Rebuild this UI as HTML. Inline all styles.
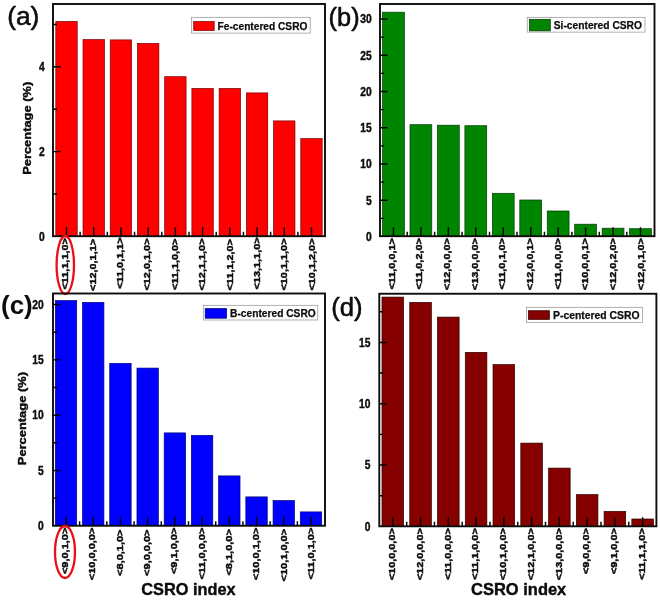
<!DOCTYPE html>
<html lang="en">
<head>
<meta charset="utf-8">
<title>CSRO index distributions</title>
<style>
html,body{margin:0;padding:0;background:#fff;}
body{width:660px;height:600px;overflow:hidden;}
svg{display:block;}
text{font-family:"Liberation Sans", sans-serif;fill:#0a0a0a;stroke:#0a0a0a;stroke-width:0.3px;stroke-linejoin:round;}
.b{font-weight:700;}
.r{font-weight:400;stroke-width:0.55px;}
.tb{font-weight:700;stroke:none;}
</style>
</head>
<body>
<svg width="660" height="600" viewBox="0 0 660 600">
<defs><filter id="soft" x="0" y="0" width="660" height="600" filterUnits="userSpaceOnUse"><feGaussianBlur stdDeviation="0.75"/></filter></defs>
<g filter="url(#soft)">
<rect x="-5" y="-5" width="670" height="610" fill="#fff"/>
<rect x="55.80" y="21.50" width="21.40" height="214.70" fill="#ff0000" stroke="#7a0000" stroke-width="0.7"/>
<rect x="83.02" y="39.60" width="21.40" height="196.60" fill="#ff0000" stroke="#7a0000" stroke-width="0.7"/>
<rect x="110.24" y="39.90" width="21.40" height="196.30" fill="#ff0000" stroke="#7a0000" stroke-width="0.7"/>
<rect x="137.46" y="43.40" width="21.40" height="192.80" fill="#ff0000" stroke="#7a0000" stroke-width="0.7"/>
<rect x="164.68" y="76.70" width="21.40" height="159.50" fill="#ff0000" stroke="#7a0000" stroke-width="0.7"/>
<rect x="191.90" y="88.40" width="21.40" height="147.80" fill="#ff0000" stroke="#7a0000" stroke-width="0.7"/>
<rect x="219.12" y="88.40" width="21.40" height="147.80" fill="#ff0000" stroke="#7a0000" stroke-width="0.7"/>
<rect x="246.34" y="92.90" width="21.40" height="143.30" fill="#ff0000" stroke="#7a0000" stroke-width="0.7"/>
<rect x="273.56" y="120.90" width="21.40" height="115.30" fill="#ff0000" stroke="#7a0000" stroke-width="0.7"/>
<rect x="300.78" y="138.60" width="21.40" height="97.60" fill="#ff0000" stroke="#7a0000" stroke-width="0.7"/>
<rect x="53.0" y="4" width="272.0" height="232.2" fill="none" stroke="#0c0c0c" stroke-width="1.9"/>
<path d="M66.50 236.2V227.2 M80.11 236.2V231.7 M93.72 236.2V227.2 M107.33 236.2V231.7 M120.94 236.2V227.2 M134.55 236.2V231.7 M148.16 236.2V227.2 M161.77 236.2V231.7 M175.38 236.2V227.2 M188.99 236.2V231.7 M202.60 236.2V227.2 M216.21 236.2V231.7 M229.82 236.2V227.2 M243.43 236.2V231.7 M257.04 236.2V227.2 M270.65 236.2V231.7 M284.26 236.2V227.2 M297.87 236.2V231.7 M311.48 236.2V227.2 M53.0 194.00H57.0 M53.0 151.60H60.5 M53.0 109.20H57.0 M53.0 66.80H60.5 M53.0 24.40H57.0" stroke="#000" stroke-width="1.45" fill="none"/>
<text transform="translate(44.60 240.50) scale(0.85 1)" font-size="12.1" text-anchor="end" style="stroke-width:0.4px" class="b">0</text>
<text transform="translate(44.60 155.90) scale(0.85 1)" font-size="12.1" text-anchor="end" style="stroke-width:0.4px" class="b">2</text>
<text transform="translate(44.60 71.10) scale(0.85 1)" font-size="12.1" text-anchor="end" style="stroke-width:0.4px" class="b">4</text>
<text transform="translate(68.30 238.10) scale(0.9 1) rotate(-90)" font-size="10.9" text-anchor="end" style="stroke-width:0.5px" class="b">&lt;11,1,1,0&gt;</text>
<text transform="translate(95.67 238.90) scale(0.9 1) rotate(-90)" font-size="10.9" text-anchor="end" style="stroke-width:0.5px" class="b">&lt;12,0,1,1&gt;</text>
<text transform="translate(123.05 237.30) scale(0.9 1) rotate(-90)" font-size="10.9" text-anchor="end" style="stroke-width:0.5px" class="b">&lt;11,0,1,1&gt;</text>
<text transform="translate(150.43 238.50) scale(0.9 1) rotate(-90)" font-size="10.9" text-anchor="end" style="stroke-width:0.5px" class="b">&lt;12,0,1,0&gt;</text>
<text transform="translate(177.80 238.50) scale(0.9 1) rotate(-90)" font-size="10.9" text-anchor="end" style="stroke-width:0.5px" class="b">&lt;11,1,0,0&gt;</text>
<text transform="translate(205.18 238.50) scale(0.9 1) rotate(-90)" font-size="10.9" text-anchor="end" style="stroke-width:0.5px" class="b">&lt;12,1,1,0&gt;</text>
<text transform="translate(232.55 239.00) scale(0.9 1) rotate(-90)" font-size="10.9" text-anchor="end" style="stroke-width:0.5px" class="b">&lt;11,1,2,0&gt;</text>
<text transform="translate(259.92 237.40) scale(0.9 1) rotate(-90)" font-size="10.9" text-anchor="end" style="stroke-width:0.5px" class="b">&lt;13,1,1,0&gt;</text>
<text transform="translate(287.30 238.50) scale(0.9 1) rotate(-90)" font-size="10.9" text-anchor="end" style="stroke-width:0.5px" class="b">&lt;10,1,1,0&gt;</text>
<text transform="translate(314.68 238.50) scale(0.9 1) rotate(-90)" font-size="10.9" text-anchor="end" style="stroke-width:0.5px" class="b">&lt;10,1,2,0&gt;</text>
<rect x="191.6" y="17.3" width="118.6" height="15.8" fill="#fff" stroke="#909090" stroke-width="0.7"/>
<rect x="193.7" y="21.5" width="20.5" height="9.0" fill="#ff0000" stroke="#7a0000" stroke-width="0.7"/>
<text x="217.6" y="29.7" font-size="11.6" style="stroke-width:0.25px" textLength="89.79999999999998" lengthAdjust="spacingAndGlyphs" class="b">Fe-centered CSRO</text>
<text x="7.2" y="24.6" font-size="26.2" textLength="32.2" lengthAdjust="spacingAndGlyphs" class="r">(a)</text>
<text transform="translate(30.70 128.30) scale(0.88 1) rotate(-90)" font-size="12.9" text-anchor="middle" style="stroke-width:0.45px" class="b">Percentage (%)</text>
<ellipse cx="65.3" cy="265" rx="8.7" ry="29" fill="none" stroke="#ee0a12" stroke-width="2.3"/>
<rect x="382.55" y="12.20" width="21.80" height="224.00" fill="#008500" stroke="#003800" stroke-width="0.7"/>
<rect x="410.00" y="124.70" width="21.80" height="111.50" fill="#008500" stroke="#003800" stroke-width="0.7"/>
<rect x="437.45" y="125.20" width="21.80" height="111.00" fill="#008500" stroke="#003800" stroke-width="0.7"/>
<rect x="464.90" y="125.70" width="21.80" height="110.50" fill="#008500" stroke="#003800" stroke-width="0.7"/>
<rect x="492.35" y="193.30" width="21.80" height="42.90" fill="#008500" stroke="#003800" stroke-width="0.7"/>
<rect x="519.80" y="200.00" width="21.80" height="36.20" fill="#008500" stroke="#003800" stroke-width="0.7"/>
<rect x="547.25" y="211.00" width="21.80" height="25.20" fill="#008500" stroke="#003800" stroke-width="0.7"/>
<rect x="574.70" y="224.20" width="21.80" height="12.00" fill="#008500" stroke="#003800" stroke-width="0.7"/>
<rect x="602.15" y="228.20" width="21.80" height="8.00" fill="#008500" stroke="#003800" stroke-width="0.7"/>
<rect x="629.60" y="228.70" width="21.80" height="7.50" fill="#008500" stroke="#003800" stroke-width="0.7"/>
<rect x="380" y="4" width="274.5" height="232.2" fill="none" stroke="#0c0c0c" stroke-width="1.9"/>
<path d="M393.45 236.2V227.2 M407.18 236.2V231.7 M420.90 236.2V227.2 M434.62 236.2V231.7 M448.35 236.2V227.2 M462.07 236.2V231.7 M475.80 236.2V227.2 M489.52 236.2V231.7 M503.25 236.2V227.2 M516.98 236.2V231.7 M530.70 236.2V227.2 M544.43 236.2V231.7 M558.15 236.2V227.2 M571.88 236.2V231.7 M585.60 236.2V227.2 M599.33 236.2V231.7 M613.05 236.2V227.2 M626.77 236.2V231.7 M640.50 236.2V227.2 M380 218.38H384 M380 200.25H387.5 M380 182.12H384 M380 164.00H387.5 M380 145.88H384 M380 127.75H387.5 M380 109.62H384 M380 91.50H387.5 M380 73.38H384 M380 55.25H387.5 M380 37.12H384 M380 19.00H387.5" stroke="#000" stroke-width="1.45" fill="none"/>
<text transform="translate(371.60 240.80) scale(0.85 1)" font-size="12.1" text-anchor="end" style="stroke-width:0.4px" class="b">0</text>
<text transform="translate(371.60 204.55) scale(0.85 1)" font-size="12.1" text-anchor="end" style="stroke-width:0.4px" class="b">5</text>
<text transform="translate(371.60 168.30) scale(0.85 1)" font-size="12.1" text-anchor="end" style="stroke-width:0.4px" class="b">10</text>
<text transform="translate(371.60 132.05) scale(0.85 1)" font-size="12.1" text-anchor="end" style="stroke-width:0.4px" class="b">15</text>
<text transform="translate(371.60 95.80) scale(0.85 1)" font-size="12.1" text-anchor="end" style="stroke-width:0.4px" class="b">20</text>
<text transform="translate(371.60 59.55) scale(0.85 1)" font-size="12.1" text-anchor="end" style="stroke-width:0.4px" class="b">25</text>
<text transform="translate(371.60 23.30) scale(0.85 1)" font-size="12.1" text-anchor="end" style="stroke-width:0.4px" class="b">30</text>
<text transform="translate(394.70 238.10) scale(0.9 1) rotate(-90)" font-size="10.9" text-anchor="end" style="stroke-width:0.5px" class="b">&lt;11,0,0,1&gt;</text>
<text transform="translate(422.35 238.10) scale(0.9 1) rotate(-90)" font-size="10.9" text-anchor="end" style="stroke-width:0.5px" class="b">&lt;11,0,2,0&gt;</text>
<text transform="translate(450.00 238.10) scale(0.9 1) rotate(-90)" font-size="10.9" text-anchor="end" style="stroke-width:0.5px" class="b">&lt;12,0,0,0&gt;</text>
<text transform="translate(477.65 238.10) scale(0.9 1) rotate(-90)" font-size="10.9" text-anchor="end" style="stroke-width:0.5px" class="b">&lt;13,0,0,0&gt;</text>
<text transform="translate(505.30 238.10) scale(0.9 1) rotate(-90)" font-size="10.9" text-anchor="end" style="stroke-width:0.5px" class="b">&lt;11,0,1,0&gt;</text>
<text transform="translate(532.95 238.10) scale(0.9 1) rotate(-90)" font-size="10.9" text-anchor="end" style="stroke-width:0.5px" class="b">&lt;12,0,0,1&gt;</text>
<text transform="translate(560.60 238.10) scale(0.9 1) rotate(-90)" font-size="10.9" text-anchor="end" style="stroke-width:0.5px" class="b">&lt;11,0,0,0&gt;</text>
<text transform="translate(588.25 238.10) scale(0.9 1) rotate(-90)" font-size="10.9" text-anchor="end" style="stroke-width:0.5px" class="b">&lt;10,0,0,1&gt;</text>
<text transform="translate(615.90 238.10) scale(0.9 1) rotate(-90)" font-size="10.9" text-anchor="end" style="stroke-width:0.5px" class="b">&lt;12,0,2,0&gt;</text>
<text transform="translate(643.55 238.10) scale(0.9 1) rotate(-90)" font-size="10.9" text-anchor="end" style="stroke-width:0.5px" class="b">&lt;12,0,1,0&gt;</text>
<rect x="527.2" y="17.3" width="117.79999999999995" height="14.8" fill="#fff" stroke="#909090" stroke-width="0.7"/>
<rect x="529.5" y="19.3" width="20.799999999999955" height="11.599999999999998" fill="#008500" stroke="#003800" stroke-width="0.7"/>
<text x="553.75" y="28.8" font-size="11.6" style="stroke-width:0.25px" textLength="88.25" lengthAdjust="spacingAndGlyphs" class="b">Si-centered CSRO</text>
<text x="328.6" y="26.2" font-size="26.6" textLength="31" lengthAdjust="spacingAndGlyphs" class="r">(b)</text>
<rect x="55.30" y="300.60" width="21.40" height="225.15" fill="#0000ff" stroke="#00007a" stroke-width="0.7"/>
<rect x="82.52" y="302.40" width="21.40" height="223.35" fill="#0000ff" stroke="#00007a" stroke-width="0.7"/>
<rect x="109.74" y="363.40" width="21.40" height="162.35" fill="#0000ff" stroke="#00007a" stroke-width="0.7"/>
<rect x="136.96" y="368.10" width="21.40" height="157.65" fill="#0000ff" stroke="#00007a" stroke-width="0.7"/>
<rect x="164.18" y="432.90" width="21.40" height="92.85" fill="#0000ff" stroke="#00007a" stroke-width="0.7"/>
<rect x="191.40" y="435.40" width="21.40" height="90.35" fill="#0000ff" stroke="#00007a" stroke-width="0.7"/>
<rect x="218.62" y="475.90" width="21.40" height="49.85" fill="#0000ff" stroke="#00007a" stroke-width="0.7"/>
<rect x="245.84" y="496.90" width="21.40" height="28.85" fill="#0000ff" stroke="#00007a" stroke-width="0.7"/>
<rect x="273.06" y="500.60" width="21.40" height="25.15" fill="#0000ff" stroke="#00007a" stroke-width="0.7"/>
<rect x="300.28" y="511.90" width="21.40" height="13.85" fill="#0000ff" stroke="#00007a" stroke-width="0.7"/>
<rect x="53.0" y="293.5" width="272.0" height="232.25" fill="none" stroke="#0c0c0c" stroke-width="1.9"/>
<path d="M66.00 525.75V516.75 M79.61 525.75V521.25 M93.22 525.75V516.75 M106.83 525.75V521.25 M120.44 525.75V516.75 M134.05 525.75V521.25 M147.66 525.75V516.75 M161.27 525.75V521.25 M174.88 525.75V516.75 M188.49 525.75V521.25 M202.10 525.75V516.75 M215.71 525.75V521.25 M229.32 525.75V516.75 M242.93 525.75V521.25 M256.54 525.75V516.75 M270.15 525.75V521.25 M283.76 525.75V516.75 M297.37 525.75V521.25 M310.98 525.75V516.75 M53.0 498.10H57.0 M53.0 470.45H60.5 M53.0 442.80H57.0 M53.0 415.15H60.5 M53.0 387.50H57.0 M53.0 359.85H60.5 M53.0 332.20H57.0 M53.0 304.55H60.5" stroke="#000" stroke-width="1.45" fill="none"/>
<text transform="translate(43.60 530.05) scale(0.85 1)" font-size="12.1" text-anchor="end" style="stroke-width:0.4px" class="b">0</text>
<text transform="translate(43.60 474.75) scale(0.85 1)" font-size="12.1" text-anchor="end" style="stroke-width:0.4px" class="b">5</text>
<text transform="translate(43.60 419.45) scale(0.85 1)" font-size="12.1" text-anchor="end" style="stroke-width:0.4px" class="b">10</text>
<text transform="translate(43.60 364.15) scale(0.85 1)" font-size="12.1" text-anchor="end" style="stroke-width:0.4px" class="b">15</text>
<text transform="translate(43.60 308.85) scale(0.85 1)" font-size="12.1" text-anchor="end" style="stroke-width:0.4px" class="b">20</text>
<text transform="translate(68.10 527.65) scale(0.9 1) rotate(-90)" font-size="11" text-anchor="end" style="stroke-width:0.5px" class="b">&lt;9,0,1,0&gt;</text>
<text transform="translate(95.43 527.65) scale(0.9 1) rotate(-90)" font-size="11" text-anchor="end" style="stroke-width:0.5px" class="b">&lt;10,0,0,0&gt;</text>
<text transform="translate(122.76 529.45) scale(0.9 1) rotate(-90)" font-size="11" text-anchor="end" style="stroke-width:0.5px" class="b">&lt;8,0,1,0&gt;</text>
<text transform="translate(150.09 529.45) scale(0.9 1) rotate(-90)" font-size="11" text-anchor="end" style="stroke-width:0.5px" class="b">&lt;9,0,0,0&gt;</text>
<text transform="translate(177.42 527.65) scale(0.9 1) rotate(-90)" font-size="11" text-anchor="end" style="stroke-width:0.5px" class="b">&lt;9,1,0,0&gt;</text>
<text transform="translate(204.75 527.65) scale(0.9 1) rotate(-90)" font-size="11" text-anchor="end" style="stroke-width:0.5px" class="b">&lt;11,0,0,0&gt;</text>
<text transform="translate(232.08 529.15) scale(0.9 1) rotate(-90)" font-size="11" text-anchor="end" style="stroke-width:0.5px" class="b">&lt;8,1,0,0&gt;</text>
<text transform="translate(259.41 527.65) scale(0.9 1) rotate(-90)" font-size="11" text-anchor="end" style="stroke-width:0.5px" class="b">&lt;10,0,1,0&gt;</text>
<text transform="translate(286.74 528.85) scale(0.9 1) rotate(-90)" font-size="11" text-anchor="end" style="stroke-width:0.5px" class="b">&lt;10,1,0,0&gt;</text>
<text transform="translate(314.07 527.65) scale(0.9 1) rotate(-90)" font-size="11" text-anchor="end" style="stroke-width:0.5px" class="b">&lt;11,0,1,0&gt;</text>
<rect x="203.3" y="305.3" width="114.5" height="14.699999999999989" fill="#fff" stroke="#909090" stroke-width="0.7"/>
<rect x="205.2" y="308.5" width="21.400000000000006" height="9.699999999999989" fill="#0000ff" stroke="#00007a" stroke-width="0.7"/>
<text x="230" y="317.3" font-size="11.6" style="stroke-width:0.25px" textLength="85.75" lengthAdjust="spacingAndGlyphs" class="b">B-centered CSRO</text>
<text x="1" y="314" font-size="26" class="tb">(c)</text>
<text transform="translate(26.10 418.60) scale(0.88 1) rotate(-90)" font-size="12.9" text-anchor="middle" style="stroke-width:0.45px" class="b">Percentage (%)</text>
<text x="141.2" y="595" font-size="16.5" textLength="94.4" lengthAdjust="spacingAndGlyphs" style="stroke-width:0.4px" class="b">CSRO index</text>
<ellipse cx="65" cy="552" rx="10" ry="26" fill="none" stroke="#ee0a12" stroke-width="2.3"/>
<rect x="382.00" y="297.10" width="21.60" height="229.20" fill="#860000" stroke="#2a0000" stroke-width="0.7"/>
<rect x="409.76" y="302.40" width="21.60" height="223.90" fill="#860000" stroke="#2a0000" stroke-width="0.7"/>
<rect x="437.52" y="317.10" width="21.60" height="209.20" fill="#860000" stroke="#2a0000" stroke-width="0.7"/>
<rect x="465.28" y="352.40" width="21.60" height="173.90" fill="#860000" stroke="#2a0000" stroke-width="0.7"/>
<rect x="493.04" y="364.60" width="21.60" height="161.70" fill="#860000" stroke="#2a0000" stroke-width="0.7"/>
<rect x="520.80" y="443.10" width="21.60" height="83.20" fill="#860000" stroke="#2a0000" stroke-width="0.7"/>
<rect x="548.56" y="468.10" width="21.60" height="58.20" fill="#860000" stroke="#2a0000" stroke-width="0.7"/>
<rect x="576.32" y="494.60" width="21.60" height="31.70" fill="#860000" stroke="#2a0000" stroke-width="0.7"/>
<rect x="604.08" y="511.40" width="21.60" height="14.90" fill="#860000" stroke="#2a0000" stroke-width="0.7"/>
<rect x="631.84" y="519.00" width="21.60" height="7.30" fill="#860000" stroke="#2a0000" stroke-width="0.7"/>
<rect x="379.3" y="293.75" width="277.09999999999997" height="232.54999999999995" fill="none" stroke="#0c0c0c" stroke-width="1.9"/>
<path d="M392.80 526.3V517.3 M406.68 526.3V521.8 M420.56 526.3V517.3 M434.44 526.3V521.8 M448.32 526.3V517.3 M462.20 526.3V521.8 M476.08 526.3V517.3 M489.96 526.3V521.8 M503.84 526.3V517.3 M517.72 526.3V521.8 M531.60 526.3V517.3 M545.48 526.3V521.8 M559.36 526.3V517.3 M573.24 526.3V521.8 M587.12 526.3V517.3 M601.00 526.3V521.8 M614.88 526.3V517.3 M628.76 526.3V521.8 M642.64 526.3V517.3 M379.3 495.65H383.3 M379.3 465.00H386.8 M379.3 434.35H383.3 M379.3 403.70H386.8 M379.3 373.05H383.3 M379.3 342.40H386.8 M379.3 311.75H383.3" stroke="#000" stroke-width="1.45" fill="none"/>
<text transform="translate(370.40 530.60) scale(0.85 1)" font-size="12.1" text-anchor="end" style="stroke-width:0.4px" class="b">0</text>
<text transform="translate(370.40 469.30) scale(0.85 1)" font-size="12.1" text-anchor="end" style="stroke-width:0.4px" class="b">5</text>
<text transform="translate(370.40 408.00) scale(0.85 1)" font-size="12.1" text-anchor="end" style="stroke-width:0.4px" class="b">10</text>
<text transform="translate(370.40 346.70) scale(0.85 1)" font-size="12.1" text-anchor="end" style="stroke-width:0.4px" class="b">15</text>
<text transform="translate(395.00 528.20) scale(0.9 1) rotate(-90)" font-size="10.9" text-anchor="end" style="stroke-width:0.5px" class="b">&lt;10,0,0,0&gt;</text>
<text transform="translate(422.76 528.20) scale(0.9 1) rotate(-90)" font-size="10.9" text-anchor="end" style="stroke-width:0.5px" class="b">&lt;12,0,0,0&gt;</text>
<text transform="translate(450.52 528.20) scale(0.9 1) rotate(-90)" font-size="10.9" text-anchor="end" style="stroke-width:0.5px" class="b">&lt;11,0,0,0&gt;</text>
<text transform="translate(478.28 528.20) scale(0.9 1) rotate(-90)" font-size="10.9" text-anchor="end" style="stroke-width:0.5px" class="b">&lt;11,1,0,0&gt;</text>
<text transform="translate(506.04 528.20) scale(0.9 1) rotate(-90)" font-size="10.9" text-anchor="end" style="stroke-width:0.5px" class="b">&lt;10,1,0,0&gt;</text>
<text transform="translate(533.80 528.20) scale(0.9 1) rotate(-90)" font-size="10.9" text-anchor="end" style="stroke-width:0.5px" class="b">&lt;12,1,0,0&gt;</text>
<text transform="translate(561.56 528.20) scale(0.9 1) rotate(-90)" font-size="10.9" text-anchor="end" style="stroke-width:0.5px" class="b">&lt;13,0,0,0&gt;</text>
<text transform="translate(589.32 528.20) scale(0.9 1) rotate(-90)" font-size="10.9" text-anchor="end" style="stroke-width:0.5px" class="b">&lt;9,0,0,0&gt;</text>
<text transform="translate(617.08 528.20) scale(0.9 1) rotate(-90)" font-size="10.9" text-anchor="end" style="stroke-width:0.5px" class="b">&lt;9,1,0,0&gt;</text>
<text transform="translate(644.84 528.20) scale(0.9 1) rotate(-90)" font-size="10.9" text-anchor="end" style="stroke-width:0.5px" class="b">&lt;11,1,1,0&gt;</text>
<rect x="526.4" y="307.3" width="116.0" height="15.199999999999989" fill="#fff" stroke="#909090" stroke-width="0.7"/>
<rect x="528.4" y="310.7" width="21.0" height="8.699999999999989" fill="#860000" stroke="#2a0000" stroke-width="0.7"/>
<text x="553" y="319.3" font-size="11.6" style="stroke-width:0.25px" textLength="86.5" lengthAdjust="spacingAndGlyphs" class="b">P-centered CSRO</text>
<text x="331.2" y="315.5" font-size="26" textLength="31.4" lengthAdjust="spacingAndGlyphs" class="r">(d)</text>
<text x="471.1" y="595" font-size="16.5" textLength="95.2" lengthAdjust="spacingAndGlyphs" style="stroke-width:0.4px" class="b">CSRO index</text>
</g>
</svg>
</body>
</html>
